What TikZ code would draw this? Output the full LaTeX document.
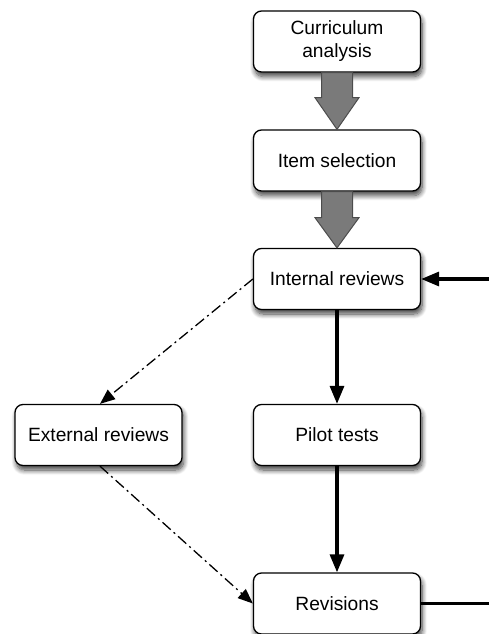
\documentclass[tikz,border=0pt]{standalone}
\usepackage{fontspec}
\setmainfont{Liberation Sans}
\usetikzlibrary{arrows.meta,shadows.blur,calc}
\tikzset{
  box/.style={draw, line width=1.3pt, rounded corners=8pt, fill=white,
    minimum width=167pt, minimum height=61pt, align=center,
    font=\fontsize{19.2}{23}\selectfont, inner sep=0pt,
    blur shadow={shadow xshift=1.5pt, shadow yshift=-4.5pt, shadow blur radius=5pt, shadow blur steps=10, shadow opacity=75}},
  fat/.style={draw=black!70, line width=1pt, fill=black!52},
  solidarrow/.style={line width=3.2pt, -{Triangle[length=18pt,width=14pt]}},
  dasharrow/.style={line width=1.3pt, dash pattern=on 11pt off 4pt on 2pt off 4pt,
    -{Triangle[length=15pt,width=12pt]}},
}
\begin{document}
\begin{tikzpicture}[x=1pt,y=-1pt]
\useasboundingbox (0,0) rectangle (489,634);
\node[box] (cur) at (337,41.5) {Curriculum\\analysis};
\node[box] (item) at (337,160.5) {Item selection};
\node[box] (int) at (337,279) {Internal reviews};
\node[box] (ext) at (98.5,435) {External reviews};
\node[box] (pil) at (337,435) {Pilot tests};
\node[box] (rev) at (337,603.5) {Revisions};
\coordinate (inR) at (489,279);
\coordinate (outR) at (489,603.5);
% fat arrows
\draw[fat] ($(cur.south)+(-15.5,0)$) -- ($(cur.south)+(-15.5,25)$) -- ($(cur.south)+(-22,25)$)
  -- (item.north) -- ($(cur.south)+(22,25)$) -- ($(cur.south)+(15.5,25)$) -- ($(cur.south)+(15.5,0)$) -- cycle;
\draw[fat] ($(item.south)+(-15.5,0)$) -- ($(item.south)+(-15.5,26)$) -- ($(item.south)+(-22,26)$)
  -- (int.north) -- ($(item.south)+(22,26)$) -- ($(item.south)+(15.5,26)$) -- ($(item.south)+(15.5,0)$) -- cycle;
% solid arrows
\draw[solidarrow] (int.south) -- (pil.north);
\draw[solidarrow] (pil.south) -- (rev.north);
\draw[solidarrow] (inR) -- (int.east);
\draw[line width=3.2pt] (rev.east) -- (outR);
% dash-dot arrows
\draw[dasharrow] (int.west) -- ([xshift=1.5pt]ext.north);
\draw[dasharrow] ([xshift=1.5pt]ext.south) -- (rev.west);
\end{tikzpicture}
\end{document}
